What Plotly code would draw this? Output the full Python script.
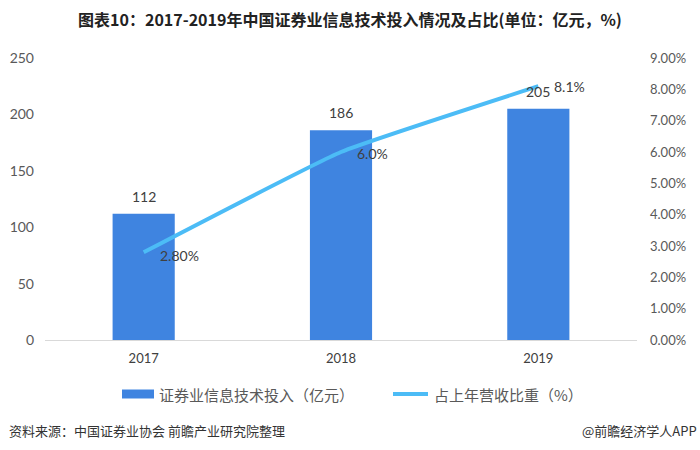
import plotly.graph_objects as go

years = ["2017", "2018", "2019"]
invest = [112, 186, 205]
ratio = [2.8, 6.0, 8.1]
ratio_labels = ["2.80%", "6.0%", "8.1%"]
left_ticks = [0, 50, 100, 150, 200, 250]
right_ticks = [0, 1, 2, 3, 4, 5, 6, 7, 8, 9]
bar_name = "证券业信息技术投入（亿元）"
line_name = "占上年营收比重（%）"

NUM_FONT = "Lato, 'Noto Sans CJK SC', sans-serif"
CJK_FONT = "'Noto Sans CJK SC', sans-serif"
GRAY = "#595959"
BAR_COLOR = "#3F84E0"
LINE_COLOR = "#4CBCF6"

# plot area in pixels (for paper-coordinate decoration placement)
L, R, T, B = 45, 637, 58, 340
W, H = R - L, B - T


def px(x):
    return (x - L) / W


def py(y):
    return (B - y) / H


fig = go.Figure()
fig.add_trace(go.Bar(
    x=years, y=invest, name=bar_name,
    marker=dict(color=BAR_COLOR, line=dict(width=0)),
    showlegend=False,
))
fig.add_trace(go.Scatter(
    x=years, y=ratio, name=line_name, yaxis="y2",
    mode="lines", line=dict(color=LINE_COLOR, width=4, shape="spline", smoothing=0.35),
    showlegend=False, cliponaxis=False,
))

annotations = []
# category axis: annotation x given as category index of each year
for i, v in enumerate(invest):
    annotations.append(dict(x=i, y=v, xref="x", yref="y", text=str(v), showarrow=False,
                            xanchor="center", yanchor="bottom", yshift=7,
                            font=dict(size=14, color="#404040", family=NUM_FONT)))
shifts = [-3, -1, 0]
for i, (v, lab, s) in enumerate(zip(ratio, ratio_labels, shifts)):
    annotations.append(dict(x=i, y=v, xref="x", yref="y2", text=lab, showarrow=False,
                            xanchor="left", yanchor="middle", xshift=14, yshift=s,
                            font=dict(size=14, color="#404040", family=NUM_FONT)))

# legend (manual)
annotations.append(dict(text=bar_name, xref="paper", yref="paper", x=px(157), y=py(394),
                        xanchor="left", yanchor="middle", showarrow=False,
                        font=dict(size=15, color=GRAY, family=CJK_FONT)))
annotations.append(dict(text=line_name, xref="paper", yref="paper", x=px(432), y=py(394),
                        xanchor="left", yanchor="middle", showarrow=False,
                        font=dict(size=15, color=GRAY, family=CJK_FONT)))
# source notes
annotations.append(dict(text="资料来源：中国证券业协会 前瞻产业研究院整理", xref="paper", yref="paper",
                        x=px(7), y=py(430), xanchor="left", yanchor="middle", showarrow=False,
                        font=dict(size=13, color="#333333", family=CJK_FONT)))
annotations.append(dict(text="@前瞻经济学人APP", xref="paper", yref="paper",
                        x=px(699), y=py(430), xanchor="right", yanchor="middle", showarrow=False,
                        font=dict(size=13, color="#333333", family=CJK_FONT)))

shapes = [
    dict(type="rect", xref="paper", yref="paper", x0=px(122), x1=px(154), y0=py(398.5), y1=py(389.5),
         fillcolor=BAR_COLOR, line=dict(width=0)),
    dict(type="line", xref="paper", yref="paper", x0=px(393), x1=px(428), y0=py(394), y1=py(394),
         line=dict(color=LINE_COLOR, width=4)),
]

fig.update_layout(
    width=700, height=450,
    margin=dict(l=L, r=700 - R, t=T, b=450 - B, autoexpand=False),
    paper_bgcolor="white", plot_bgcolor="white",
    font=dict(family=NUM_FONT, color=GRAY, size=13),
    bargap=0.685,
    showlegend=False,
    title=dict(text="<b>图表10：2017-2019年中国证券业信息技术投入情况及占比(单位：亿元，%)</b>",
               x=0.5, xanchor="center", y=1 - 20 / 450, yanchor="middle",
               font=dict(size=16, color="#222222", family=CJK_FONT)),
    xaxis=dict(type="category", range=[-0.5, 2.5], showgrid=False, showline=True,
               linecolor="#D9D9D9", linewidth=1,
               ticks="", tickfont=dict(size=13, color="#404040"), ticklabelstandoff=6),
    yaxis=dict(range=[0, 250], tickvals=left_ticks, showgrid=False, zeroline=False,
               showline=False, tickfont=dict(size=14, color=GRAY), ticklabelstandoff=10),
    yaxis2=dict(range=[0, 9], tickvals=right_ticks, ticktext=[f"{v:.2f}%" for v in right_ticks],
                overlaying="y", side="right", showgrid=False, zeroline=False,
                tickfont=dict(size=13, color=GRAY), ticklabelstandoff=12),
    annotations=annotations,
    shapes=shapes,
)

fig.write_html("out.html")
